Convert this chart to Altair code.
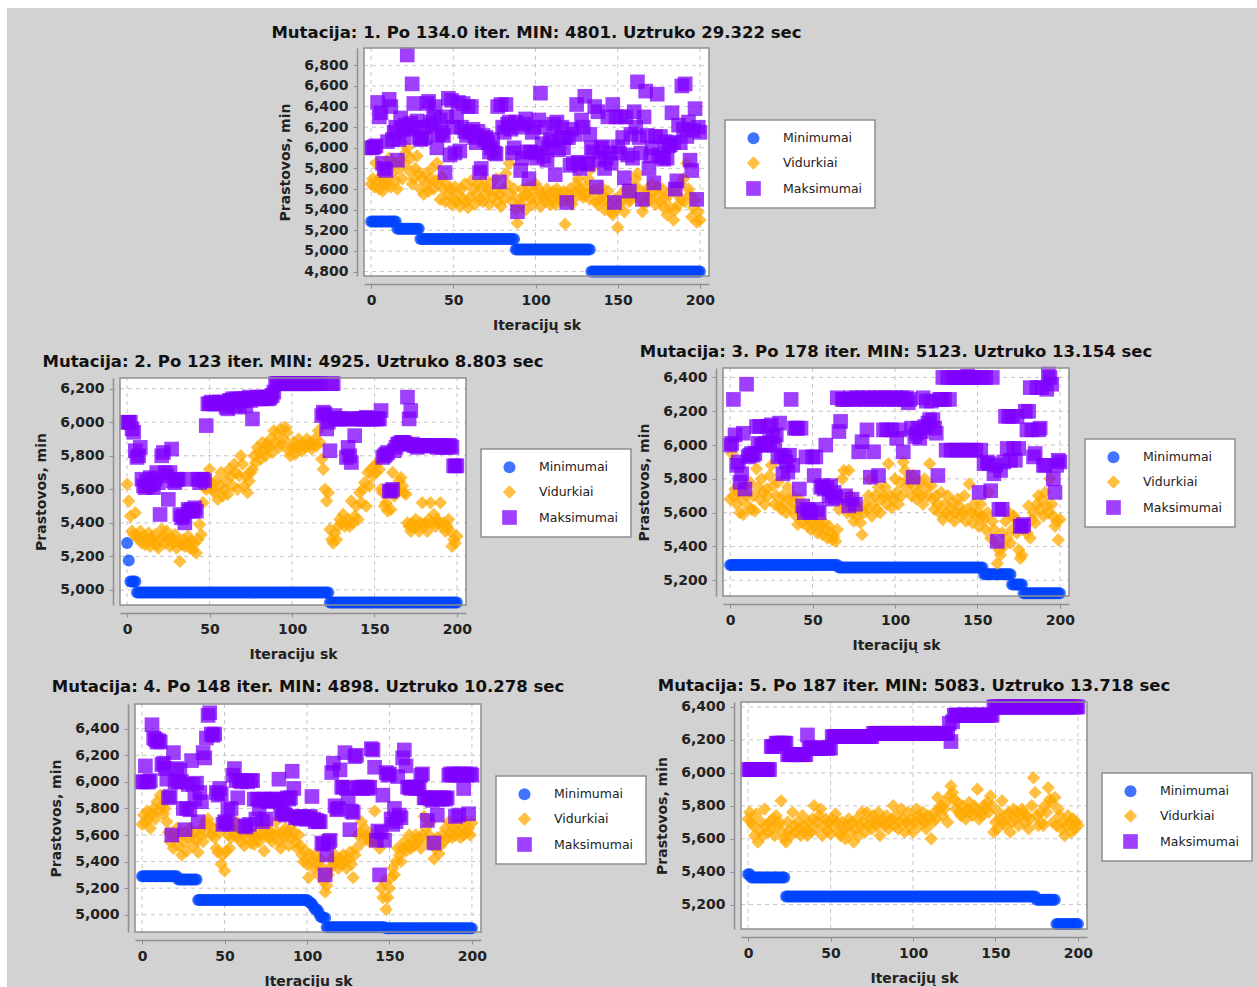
import altair as alt
import pandas as pd

SERIES = ["Minimumai", "Vidurkiai", "Maksimumai"]
COLORS = ["#0044ff", "#ffaa00", "#7f00ff"]
SHAPES = ["circle", "diamond", "square"]
X_TICKS = [0, 50, 100, 150, 200]
X_DOM = [-4.3, 205.5]
Y_TITLE = "Prastovos, min"

P1_TITLE = "Mutacija: 1. Po 134.0 iter. MIN: 4801. Uztruko 29.322 sec"
P1_XTITLE = "Iteracijų sk"
P1_YDOM = [4757, 6968]
P1_YTICKS = [4800, 5000, 5200, 5400, 5600, 5800, 6000, 6200, 6400, 6600, 6800]
P1_MIN_RUNS = [(5285, 16), (5215, 14), (5115, 58), (5015, 46), (4801, 67)]
P1_AVG = [5650, 5700, 5620, 5850, 5680, 5600, 5720, 5580, 5650, 5700,
          5650, 5900, 5620, 5750, 5850, 5680, 5600, 5800, 5880, 5700,
          5850, 5950, 6000, 5780, 5900, 5650, 5700, 5800, 5920, 5750,
          5600, 5700, 5550, 5750, 5650, 5580, 5700, 5800, 5600, 5680,
          5850, 5650, 5500, 5720, 5600, 5480, 5650, 5550, 5600, 5450,
          5500, 5620, 5480, 5550, 5430, 5600, 5500, 5650, 5480, 5420,
          5520, 5680, 5600, 5450, 5550, 5650, 5500, 5620, 5480, 5700,
          5550, 5600, 5450, 5650, 5520, 5580, 5700, 5480, 5550, 5430,
          5600, 5500, 5750, 5650, 5850, 5550, 5480, 5600, 5400, 5270,
          5500, 5450, 5600, 5530, 5400, 5550, 5620, 5500, 5450, 5580,
          5650, 5500, 5600, 5430, 5550, 5520, 5480, 5600, 5550, 5450,
          5500, 5580, 5450, 5600, 5520, 5550, 5480, 5580, 5260, 5500,
          5550, 5600, 5450, 5500, 5580, 5650, 5700, 5600, 5550, 5520,
          5620, 5550, 5700, 5500, 5800, 5580, 5600, 5480, 5450, 5500,
          5620, 5550, 5400, 5500, 5580, 5450, 5380, 5350, 5500, 5400,
          5230, 5450, 5550, 5500, 5380, 5600, 5580, 5480, 5500, 5550,
          5620, 5700, 5750, 5600, 5500, 5380, 5450, 5550, 5600, 5520,
          5500, 5650, 5580, 5450, 5620, 5550, 5480, 5600, 5420, 5500,
          5350, 5550, 5420, 5600, 5300, 5400, 5550, 5450, 5650, 5500,
          5700, 5480, 5850, 5600, 5550, 5330, 5420, 5500, 5280, 5380,
          5300]
P1_MAX = [6000, 6000, 6010, 6020, 6440, 6300, 6340, 5850, 5800, 5780,
          6060, 6470, 6400, 6080, 6150, 6200, 5880, 6080, 6290, 6180,
          6100, 6220, 6900, 6180, 6240, 6620, 6430, 6200, 6260, 6100,
          6080, 6090, 6200, 6100, 6430, 6450, 6250, 6220, 6300, 6400,
          6000, 6130, 6270, 6150, 6120, 5760, 6300, 6480, 5930, 6460,
          6200, 5950, 6300, 6440, 5970, 6200, 6430, 6160, 6120, 6400,
          6150, 6400, 6180, 6100, 6050, 6160, 5760, 5800, 6120, 6080,
          6100, 6050, 5960, 6000, 6080, 5950, 5940, 6400, 5670, 6420,
          6200, 6150, 6420, 6230, 6250, 6180, 5950, 6000, 6250, 5380,
          6200, 5780, 5900, 6230, 6280, 5960, 5700, 5960, 6150, 6200,
          5950, 5900, 6270, 6530, 6040, 5920, 6200, 5880, 6000, 6080,
          6060, 6230, 5740, 6250, 5980, 6100, 6200, 6000, 6100, 5470,
          6100, 5830, 6180, 5850, 6130, 6420, 5860, 5800, 6270, 6200,
          6500, 5850, 5840, 6130, 6000, 5960, 6400, 5620, 6350, 5880,
          6000, 6010, 5800, 5900, 6300, 5950, 5850, 6420, 5470, 6300,
          6010, 5950, 6300, 6100, 5710, 6300, 5930, 5580, 6130, 5900,
          6350, 6200, 6640, 6100, 5950, 5500, 6300, 6550, 6120, 5800,
          5920, 6000, 5660, 6110, 6520, 5930, 6110, 5910, 5890, 6060,
          5900, 6020, 6030, 6340, 6050, 5600, 5680, 6220, 6050, 6600,
          6180, 6620, 6110, 6250, 5880, 5780, 6170, 6380, 5500, 6200,
          6150]

P2_TITLE = "Mutacija: 2. Po 123 iter. MIN: 4925. Uztruko 8.803 sec"
P2_XTITLE = "Iteraciju sk"
P2_YDOM = [4910, 6264]
P2_YTICKS = [5000, 5200, 5400, 5600, 5800, 6000, 6200]
P2_MIN_RUNS = [(5280, 1), (5175, 1), (5050, 4), (4985, 117), (4925, 78)]
P2_AVG = [5630, 5530, 5440, 5350, 5330, 5460, 5320, 5300, 5350, 5280,
          5320, 5270, 5300, 5340, 5260, 5310, 5290, 5330, 5270, 5250,
          5300, 5360, 5320, 5280, 5350, 5300, 5260, 5310, 5280, 5330,
          5250, 5290, 5170, 5270, 5300, 5260, 5280, 5320, 5250, 5290,
          5240, 5280, 5220, 5300, 5390, 5330, 5520, 5610, 5600, 5650,
          5720, 5640, 5600, 5580, 5650, 5540, 5620, 5700, 5560, 5600,
          5650, 5570, 5720, 5680, 5620, 5750, 5700, 5600, 5680, 5800,
          5750, 5620, 5680, 5580, 5650, 5700, 5720, 5800, 5760, 5850,
          5820, 5780, 5880, 5830, 5800, 5870, 5850, 5900, 5820, 5950,
          5880, 5930, 5850, 5960, 5870, 5900, 5970, 5940, 5830, 5800,
          5850, 5880, 5810, 5850, 5900, 5860, 5830, 5870, 5850, 5900,
          5860, 5880, 5840, 5870, 5900, 5860, 5950, 5880, 5780, 5720,
          5600, 5530, 5580, 5360, 5300, 5280, 5340, 5300, 5380, 5420,
          5400, 5450, 5380, 5400, 5420, 5380, 5530, 5400, 5440, 5500,
          5420, 5580, 5520, 5600, 5640, 5500, 5700, 5620, 5720, 5680,
          5740, 5700, 5760, 5720, 5600, 5580, 5500, 5520, 5470, 5600,
          5480, 5700, 5560, 5580, 5600, 5650, 5670, 5620, 5580, 5570,
          5400, 5380, 5350, 5400, 5370, 5420, 5380, 5350, 5400, 5520,
          5380, 5400, 5350, 5420, 5520, 5400, 5450, 5380, 5420, 5400,
          5520, 5380, 5400, 5350, 5380, 5420, 5350, 5260, 5300, 5280,
          5320]
P2_MAX = ([6000, 6000, 6000, 5960, 5940, 5830, 5790, 5800, 5850, 5660,
           5620, 5610, 5650, 5620, 5670, 5630, 5610, 5660, 5700, 5640,
           5450, 5800, 5820, 5700, 5680, 5540, 5700, 5840, 5650, 5640,
           5660, 5660, 5450, 5430, 5440, 5400, 5660, 5480, 5470, 5480,
           5470, 5490, 5470, 5660, 5640, 5660, 5660, 5650, 5980, 6110,
           6110, 6120, 6110, 6110, 6120, 6110, 6120, 6110, 6110, 6120,
           6090, 6080, 6130, 6130, 6140, 6100, 6140, 6130, 6090, 6140,
           6130, 6140, 6100, 6140, 6150, 6130, 6020, 6140, 6140, 6150,
           6140, 6140, 6150, 6150, 6140, 6150, 6140, 6150, 6160, 6180]
          + [6230] * 28
          + [6040, 6060, 6050, 5960, 6000, 5830, 6230, 6230, 6040, 6020,
             6020, 6020, 6020, 6020, 6020, 5790, 5850, 5800, 5760, 6020,
             5920, 6020, 6020, 6020, 6020, 6020, 6020, 6030, 6020, 6020,
             6020, 6020, 6020, 6020, 6020, 6020, 6070, 5790, 5800, 5810,
             5820, 5590, 5590, 5600, 5830, 5850, 5870, 5870, 5880, 5880,
             5880, 5870, 6150, 6020, 6070, 5870, 5860, 5860, 5850, 5860,
             5860, 5860, 5860, 5860, 5860, 5860, 5860, 5860, 5860, 5860,
             5850, 5860, 5860, 5850, 5860, 5860, 5850, 5860, 5860, 5850,
             5740, 5740, 5740])

P3_TITLE = "Mutacija: 3. Po 178 iter. MIN: 5123. Uztruko 13.154 sec"
P3_XTITLE = "Iteracijų sk"
P3_YDOM = [5107, 6456]
P3_YTICKS = [5200, 5400, 5600, 5800, 6000, 6200, 6400]
P3_MIN_RUNS = [(5290, 66), (5275, 88), (5235, 17), (5175, 7), (5123, 23)]
P3_AVG = [5680, 5950, 5700, 5740, 5650, 5720, 5600, 5680, 5590, 5750,
          5700, 5640, 5780, 5620, 5700, 5610, 5860, 5750, 5680, 5800,
          5720, 5650, 5740, 5700, 5820, 5880, 5760, 5650, 5700, 5780,
          5640, 5620, 5700, 5660, 5600, 5750, 5680, 5620, 5700, 5650,
          5580, 5530, 5680, 5600, 5540, 5580, 5620, 5520, 5560, 5500,
          5550, 5600, 5520, 5480, 5560, 5520, 5470, 5540, 5500, 5450,
          5520, 5480, 5440, 5460, 5430, 5500, 5620, 5700, 5800, 5850,
          5640, 5600, 5850, 5700, 5600, 5550, 5650, 5580, 5620, 5540,
          5470, 5600, 5650, 5620, 5700, 5800, 5580, 5650, 5700, 5620,
          5750, 5600, 5680, 5700, 5750, 5650, 5890, 5700, 5630, 5680,
          5800, 5720, 5650, 5780, 5700, 5900, 5850, 5750, 5800, 5780,
          5700, 5820, 5750, 5680, 5720, 5780, 5700, 5650, 5800, 5750,
          5700, 5890, 5760, 5680, 5620, 5700, 5650, 5600, 5720, 5560,
          5650, 5600, 5700, 5580, 5620, 5660, 5550, 5600, 5680, 5640,
          5580, 5600, 5700, 5550, 5620, 5770, 5600, 5540, 5650, 5580,
          5600, 5520, 5650, 5580, 5560, 5500, 5600, 5720, 5450, 5550,
          5500, 5420, 5300, 5380, 5350, 5480, 5400, 5550, 5450, 5600,
          5420, 5500, 5580, 5560, 5480, 5380, 5330, 5350, 5500, 5520,
          5480, 5640, 5450, 5560, 5600, 5540, 5650, 5700, 5620, 5680,
          5580, 5720, 5640, 5600, 5800, 5650, 5580, 5520, 5550, 5440,
          5560]
P3_MAX = [6000, 6010, 6270, 6060, 5880, 5900, 5780, 5830, 6070, 5740,
          6360, 5930, 5940, 5950, 5940, 5950, 6110, 6010, 6110, 6000,
          6000, 6010, 6000, 6110, 6020, 6120, 6050, 6000, 6060, 5930,
          6130, 5940, 5830, 5930, 5900, 5840, 5940, 6270, 5880, 6100,
          6100, 6100, 5740, 6100, 5640, 5600, 5930, 5620, 5610, 5600,
          5930, 5820, 5930, 5620, 5600, 5750, 5760, 5740, 6000, 5750,
          5700, 5760, 5680, 5720, 5690, 6280, 6080, 6140, 6270, 6270,
          5700, 6270, 5640, 6280, 5680, 6270, 5650, 6280, 5960, 6270,
          6020, 6280, 6270, 6090, 6280, 5810, 6270, 5960, 6280, 6270,
          5820, 6280, 6270, 6090, 6280, 6090, 6270, 6280, 6090, 6270,
          6280, 6040, 6270, 6090, 6280, 5960, 6270, 6280, 6250, 6270,
          6100, 5810, 6050, 6070, 6100, 6040, 6080, 6280, 6110, 6260,
          6130, 6150, 6260, 6150, 6100, 6070, 5820, 6270, 6270, 6400,
          6270, 5970, 6400, 6270, 5970, 6400, 6400, 5970, 6400, 6400,
          5970, 6400, 6400, 5970, 6410, 6400, 5970, 6400, 6400, 5970,
          6400, 5720, 5970, 6400, 5890, 6400, 5900, 5890, 5730, 6400,
          5830, 5880, 5430, 5620, 5850, 5620, 5900, 6170, 5980, 6170,
          5910, 6170, 5980, 5910, 6170, 5980, 5520, 5520, 5530, 6200,
          6090, 6200, 6340, 6090, 5930, 5950, 6340, 6090, 6100, 6340,
          5880, 5880, 6330, 6420, 6400, 6360, 5800, 5720, 5880, 5910,
          5900]

P4_TITLE = "Mutacija: 4. Po 148 iter. MIN: 4898. Uztruko 10.278 sec"
P4_XTITLE = "Iteraciju sk"
P4_YDOM = [4870, 6586]
P4_YTICKS = [5000, 5200, 5400, 5600, 5800, 6000, 6200, 6400]
P4_MIN_RUNS = [(5290, 22), (5265, 12), (5110, 67), (5100, 1), (5090, 1), (5080, 1),
               (5060, 1), (5040, 2), (5020, 1), (4990, 1), (4980, 2), (4975, 1),
               (4905, 36), (4898, 53)]
P4_AVG = [5680, 5750, 5700, 5780, 5720, 5650, 5760, 5800, 5720, 5850,
          5780, 5900, 5820, 5760, 5800, 5700, 5620, 5550, 5600, 5500,
          5580, 5650, 5520, 5600, 5450, 5550, 5620, 5480, 5580, 5650,
          5600, 5520, 5620, 5560, 5470, 5600, 5650, 5550, 5700, 5620,
          5720, 5680, 5600, 5650, 5580, 5500, 5470, 5620, 5380, 5450,
          5330, 5480, 5600, 5500, 5580, 5650, 5600, 5700, 5580, 5620,
          5550, 5600, 5520, 5650, 5580, 5620, 5540, 5600, 5530, 5580,
          5620, 5550, 5600, 5680, 5480, 5600, 5650, 5580, 5620, 5550,
          5600, 5700, 5620, 5550, 5500, 5620, 5580, 5650, 5600, 5520,
          5650, 5580, 5620, 5550, 5500, 5600, 5520, 5450, 5400, 5480,
          5380, 5280, 5450, 5400, 5350, 5450, 5380, 5300, 5420, 5360,
          5250, 5170, 5220, 5300, 5350, 5420, 5380, 5450, 5400, 5350,
          5420, 5380, 5450, 5400, 5350, 5420, 5470, 5380, 5280, 5450,
          5500, 5600, 5620, 5700, 5550, 5650, 5600, 5580, 5550, 5600,
          5550, 5780, 5550, 5600, 5500, 5200, 5130, 5250, 5040, 5130,
          5200, 5280, 5350, 5300, 5400, 5500, 5450, 5400, 5500, 5550,
          5480, 5520, 5600, 5500, 5550, 5520, 5600, 5550, 5580, 5500,
          5600, 5740, 5650, 5550, 5600, 5700, 5520, 5420, 5500, 5580,
          5460, 5520, 5600, 5550, 5650, 5580, 5700, 5620, 5580, 5650,
          5600, 5680, 5620, 5580, 5650, 5600, 5700, 5620, 5650, 5600,
          5690]
P4_MAX = [6000, 6000, 6120, 6000, 6000, 6010, 6430, 6330, 6320, 6300,
          6310, 6300, 6130, 6140, 6100, 6020, 5880, 5890, 5600, 6220,
          6000, 6100, 6000, 6090, 6000, 5800, 5640, 5800, 5980, 5790,
          6160, 5980, 5870, 5990, 5700, 5920, 5850, 6220, 6180, 6330,
          6500, 6520, 6360, 6350, 6360, 5920, 5900, 5950, 5910, 5680,
          5700, 5690, 5790, 5680, 5800, 6050, 6100, 6010, 5880, 6010,
          6000, 6010, 5670, 5660, 6000, 5680, 6010, 6010, 5870, 5720,
          5870, 5800, 5860, 5700, 5870, 5720, 5850, 5860, 5870, 5870,
          5860, 5870, 5860, 6020, 5760, 5780, 5760, 5750, 5880, 5870,
          5880, 6080, 5950, 5730, 5740, 5730, 5720, 5730, 5740, 5730,
          5720, 5730, 5740, 5890, 5720, 5700, 5710, 5700, 5700, 5540,
          5530, 5300, 5450, 5550, 5560, 6070, 6140, 5820, 5790, 5800,
          6090, 5960, 5960, 6220, 5950, 5880, 5640, 5780, 5770, 6190,
          6200, 5960, 5950, 5960, 5950, 5960, 5960, 5950, 5960, 6250,
          6240, 6110, 5560, 5630, 5300, 5620, 5900, 5560, 6070, 6050,
          6060, 5720, 5680, 5800, 5700, 6040, 5750, 5730, 6180, 6240,
          6120, 5960, 5960, 5950, 5960, 5960, 5950, 5960, 5950, 6050,
          6060, 5880, 5880, 5710, 5880, 5870, 5860, 5540, 5880, 5750,
          5870, 5880, 5870, 5880, 5870, 5880, 6050, 6060, 6050, 6060,
          5740, 6050, 5750, 6060, 6050, 5950, 6060, 6050, 5760, 6060,
          6050]

P5_TITLE = "Mutacija: 5. Po 187 iter. MIN: 5083. Uztruko 13.718 sec"
P5_XTITLE = "Iteracijų sk"
P5_YDOM = [5052, 6430]
P5_YTICKS = [5200, 5400, 5600, 5800, 6000, 6200, 6400]
P5_MIN_RUNS = [(5385, 2), (5365, 21), (5250, 152), (5230, 12), (5083, 14)]
P5_AVG = [5720, 5760, 5700, 5680, 5620, 5750, 5580, 5650, 5700, 5620,
          5780, 5680, 5640, 5700, 5660, 5720, 5620, 5740, 5680, 5700,
          5830, 5640, 5600, 5580, 5700, 5650, 5620, 5760, 5680, 5640,
          5700, 5660, 5620, 5740, 5680, 5650, 5620, 5700, 5640, 5720,
          5800, 5660, 5700, 5740, 5780, 5620, 5680, 5720, 5650, 5700,
          5630, 5720, 5680, 5750, 5700, 5640, 5620, 5700, 5660, 5600,
          5680, 5720, 5640, 5700, 5580, 5660, 5720, 5620, 5680, 5760,
          5700, 5640, 5760, 5680, 5720, 5660, 5740, 5700, 5680, 5760,
          5620, 5700, 5720, 5680, 5740, 5660, 5700, 5720, 5800, 5680,
          5740, 5660, 5700, 5780, 5720, 5640, 5700, 5760, 5680, 5720,
          5640, 5700, 5780, 5740, 5680, 5720, 5760, 5700, 5660, 5740,
          5720, 5600, 5700, 5760, 5720, 5850, 5780, 5800, 5740, 5780,
          5820, 5700, 5860, 5920, 5880, 5840, 5780, 5820, 5760, 5740,
          5800, 5760, 5720, 5780, 5820, 5760, 5740, 5800, 5780, 5900,
          5720, 5760, 5740, 5800, 5780, 5820, 5760, 5860, 5800, 5640,
          5700, 5660, 5760, 5720, 5830, 5700, 5680, 5740, 5760, 5640,
          5700, 5780, 5720, 5760, 5680, 5740, 5780, 5760, 5700, 5740,
          5660, 5720, 5800, 5970, 5880, 5740, 5680, 5760, 5700, 5680,
          5800, 5760, 5910, 5840, 5820, 5700, 5850, 5680, 5780, 5740,
          5660, 5700, 5620, 5680, 5740, 5700, 5640, 5720, 5660, 5700,
          5680]
P5_MAX_RUNS = [(6020, 14), (6160, 3), (6180, 7), (6110, 12), (6230, 1), (6150, 14),
               (6220, 25), (6240, 46), (6300, 1), (6190, 1), (6310, 1), (6350, 24),
               (6400, 52)]


def expand(runs):
    out = []
    for value, count in runs:
        out.extend([value] * count)
    return out


W, H = 1257, 987
FONT = "DejaVu Sans"
FRAME = "#8f8f8f"
GRID = "#c6c6c6"
# plot rectangle of each panel: left, right, top, bottom (pixels)
GEOM = {
    1: (364, 709, 48, 276),
    2: (120, 466, 378, 605),
    3: (723, 1069, 368, 596),
    4: (135, 481, 704, 932),
    5: (741, 1087, 702, 929),
}
LEGEND_POS = {1: (725, 120), 2: (481, 449), 3: (1085, 439), 4: (496, 776), 5: (1102, 773)}
TITLE_POS = {1: (536.5, 37.5), 2: (293, 366.5), 3: (896, 356.5), 4: (308, 691.5), 5: (914, 690.5)}


def panel_layers(n, xtitle, ydom, yticks, mins, avgs, maxs):
    L, R, T, B = GEOM[n]
    xs = alt.Scale(domain=X_DOM, range=[L, R], nice=False, zero=False)
    ys = alt.Scale(domain=ydom, range=[B, T], nice=False, zero=False)

    box = pd.DataFrame({"x0": [X_DOM[0]], "x1": [X_DOM[1]], "y0": [ydom[0]], "y1": [ydom[1]]})
    bg = alt.Chart(box).mark_rect(fill="white", strokeWidth=0).encode(
        x=alt.X("x0:Q", scale=xs, axis=None), x2="x1:Q",
        y=alt.Y("y0:Q", scale=ys, axis=None), y2="y1:Q")
    frame = alt.Chart(box).mark_rect(fill="transparent", stroke=FRAME, strokeWidth=1.5).encode(
        x=alt.X("x0:Q", scale=xs, axis=None), x2="x1:Q",
        y=alt.Y("y0:Q", scale=ys, axis=None), y2="y1:Q")
    vg = pd.DataFrame({"t": X_TICKS, "a": ydom[0], "b": ydom[1]})
    vgrid = alt.Chart(vg).mark_rule(color=GRID, strokeDash=[4, 4], strokeWidth=1).encode(
        x=alt.X("t:Q", scale=xs, axis=None),
        y=alt.Y("a:Q", scale=ys, axis=None), y2="b:Q")
    hg = pd.DataFrame({"t": yticks, "a": X_DOM[0], "b": X_DOM[1]})
    hgrid = alt.Chart(hg).mark_rule(color=GRID, strokeDash=[4, 4], strokeWidth=1).encode(
        y=alt.Y("t:Q", scale=ys, axis=None),
        x=alt.X("a:Q", scale=xs, axis=None), x2="b:Q")

    rows = []
    k = 0
    for name, vals in zip(SERIES, [mins, avgs, maxs]):
        for i, v in enumerate(vals):
            rows.append({"iter": i, "val": v, "series": name, "k": k})
            k += 1
    df = pd.DataFrame(rows)
    lx, ly = LEGEND_POS[n]
    leg = alt.Legend(title=None, orient="none", legendX=lx, legendY=ly)
    pts = alt.Chart(df).mark_point(filled=True, opacity=0.75, strokeWidth=0).encode(
        x=alt.X("iter:Q", scale=xs,
                axis=alt.Axis(values=X_TICKS, title=xtitle, labelFlush=False, format="d",
                              orient="bottom", grid=False, zindex=2, offset=B + 8 - H)),
        y=alt.Y("val:Q", scale=ys,
                axis=alt.Axis(values=yticks, title=Y_TITLE, format=",d", labelFlush=False,
                              orient="left", grid=False, zindex=2, offset=-(L - 7))),
        color=alt.Color("series:N", scale=alt.Scale(domain=SERIES, range=COLORS), legend=leg),
        shape=alt.Shape("series:N", scale=alt.Scale(domain=SERIES, range=SHAPES), legend=leg),
        size=alt.Size("series:N", scale=alt.Scale(domain=SERIES, range=[144, 215, 144]),
                      legend=None),
        order=alt.Order("k:Q"),
    )
    return [bg, vgrid, hgrid, pts, frame]


def title_mark(n, text):
    cx, cy = TITLE_POS[n]
    return alt.Chart(pd.DataFrame({"z": [0]})).mark_text(
        text=text, font=FONT, fontSize=16.5, fontWeight="bold", color="#111111",
        align="center", baseline="alphabetic"
    ).encode(x=alt.value(cx), y=alt.value(cy))


page = alt.Chart(pd.DataFrame({"z": [0]})).mark_rect(color="#d2d2d2").encode(
    x=alt.value(7), x2=alt.value(W), y=alt.value(8), y2=alt.value(H))

layers = [page]
layers += panel_layers(1, P1_XTITLE, P1_YDOM, P1_YTICKS, expand(P1_MIN_RUNS), P1_AVG, P1_MAX)
layers += panel_layers(2, P2_XTITLE, P2_YDOM, P2_YTICKS, expand(P2_MIN_RUNS), P2_AVG, P2_MAX)
layers += panel_layers(3, P3_XTITLE, P3_YDOM, P3_YTICKS, expand(P3_MIN_RUNS), P3_AVG, P3_MAX)
layers += panel_layers(4, P4_XTITLE, P4_YDOM, P4_YTICKS, expand(P4_MIN_RUNS), P4_AVG, P4_MAX)
layers += panel_layers(5, P5_XTITLE, P5_YDOM, P5_YTICKS, expand(P5_MIN_RUNS), P5_AVG,
                       expand(P5_MAX_RUNS))
layers += [title_mark(1, P1_TITLE), title_mark(2, P2_TITLE), title_mark(3, P3_TITLE),
           title_mark(4, P4_TITLE), title_mark(5, P5_TITLE)]

chart = alt.layer(*layers).resolve_scale(
    x="independent", y="independent", color="independent", shape="independent",
    size="independent",
).resolve_axis(
    x="independent", y="independent",
).resolve_legend(
    color="independent", shape="independent", size="independent",
).properties(
    width=W, height=H, padding=0, autosize=alt.AutoSizeParams(type="none"),
    background="white",
).configure_view(
    stroke="transparent"
).configure_axis(
    labelFont=FONT, labelFontWeight="bold", labelFontSize=14, labelColor="#222222",
    titleFont=FONT, titleFontWeight="bold", titleFontSize=14, titleColor="#222222",
    domainColor=FRAME, domainWidth=1.5, tickColor=FRAME, tickSize=4,
    labelPadding=5, titlePadding=11, zindex=2,
).configure_legend(
    labelFont=FONT, labelFontSize=12.5, labelColor="#222222",
    fillColor="white", strokeColor=FRAME, strokeWidth=1.5,
    padding=12, rowPadding=11, symbolSize=120, symbolOffset=9, labelOffset=22,
    symbolStrokeWidth=0, cornerRadius=0,
)

chart.save("out.html", embed_options={"renderer": "svg", "actions": False})
